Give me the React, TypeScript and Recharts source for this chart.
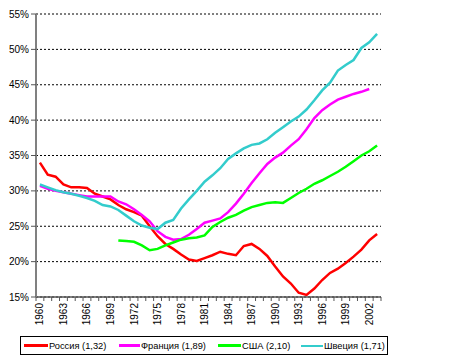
import React from "react";
import { LineChart, Line, XAxis, YAxis, CartesianGrid } from "recharts";

const years: number[] = [
  1960, 1961, 1962, 1963, 1964, 1965, 1966, 1967, 1968, 1969,
  1970, 1971, 1972, 1973, 1974, 1975, 1976, 1977, 1978, 1979,
  1980, 1981, 1982, 1983, 1984, 1985, 1986, 1987, 1988, 1989,
  1990, 1991, 1992, 1993, 1994, 1995, 1996, 1997, 1998, 1999,
  2000, 2001, 2002, 2003,
];

const russia: (number | null)[] = [
  34.0, 32.3, 32.0, 30.9, 30.5, 30.5, 30.4, 29.6, 29.2, 28.8,
  28.0, 27.4, 27.0, 26.5, 25.0, 23.6, 22.5, 21.8, 21.0, 20.3,
  20.1, 20.5, 20.9, 21.4, 21.1, 20.9, 22.2, 22.5, 21.8, 20.8,
  19.3, 17.9, 16.9, 15.6, 15.3, 16.2, 17.4, 18.4, 19.0, 19.8,
  20.7, 21.7, 23.0, 23.9,
];

const france: (number | null)[] = [
  30.7, 30.3, 30.0, 29.8, 29.6, 29.4, 29.2, 29.2, 29.2, 29.2,
  28.5, 28.1, 27.4, 26.6, 25.7, 24.3, 23.5, 23.1, 23.2, 23.8,
  24.6, 25.5, 25.8, 26.1, 27.0, 28.2, 29.6, 31.1, 32.5, 33.8,
  34.7, 35.4, 36.4, 37.3, 38.7, 40.3, 41.4, 42.2, 42.9, 43.3,
  43.7, 44.0, 44.4, null,
];

const usa: (number | null)[] = [
  null, null, null, null, null, null, null, null, null, null,
  23.0, 22.9, 22.8, 22.3, 21.6, 21.8, 22.3, 22.7, 23.1, 23.3,
  23.4, 23.7, 24.9, 25.6, 26.2, 26.6, 27.2, 27.7, 28.0, 28.3,
  28.4, 28.3, 29.0, 29.7, 30.3, 31.0, 31.5, 32.1, 32.7, 33.4,
  34.2, 35.0, 35.6, 36.4,
];

const sweden: (number | null)[] = [
  30.9, 30.5, 30.1, 29.8, 29.6, 29.3, 29.0, 28.6, 28.0, 27.8,
  27.3, 26.5, 25.7, 25.1, 24.8, 24.6, 25.5, 25.9, 27.5, 28.8,
  30.0, 31.3, 32.2, 33.2, 34.5, 35.3, 36.0, 36.5, 36.7, 37.3,
  38.2, 39.0, 39.8, 40.5, 41.5, 42.8, 44.2, 45.3, 47.0, 47.8,
  48.5, 50.2, 51.0, 52.2,
];

const seriesNames: string[] = ["Россия (1,32)", "Франция (1,89)", "США (2,10)", "Швеция (1,71)"];
const seriesKeys: string[] = ["ru", "fr", "us", "se"];
const seriesColors: string[] = ["#FF0000", "#FF00FF", "#00FF00", "#33CCCC"];

const yTicks: number[] = [15, 20, 25, 30, 35, 40, 45, 50, 55];
const xLabelYears: number[] = [1960, 1963, 1966, 1969, 1972, 1975, 1978, 1981, 1984, 1987, 1990, 1993, 1996, 1999, 2002];

const data = years.map((y, i) => ({
  year: y,
  ru: russia[i],
  fr: france[i],
  us: usa[i],
  se: sweden[i],
}));

const boundaries = [...years.map((y) => y - 0.5), years[years.length - 1] + 0.5];
const xTicks = [...boundaries, ...xLabelYears].sort((a, b) => a - b);

const FONT = "'Liberation Sans', Arial, sans-serif";

const legendLeft = [3, 98, 197, 280];
const legendLineW = [24, 21, 23, 22];

const XTick = (props: any) => {
  const { x, y, payload } = props;
  const v = payload.value as number;
  if (!Number.isInteger(v)) {
    return <line x1={x} y1={y} x2={x} y2={y + 4} stroke="#555" strokeWidth={1} />;
  }
  return (
    <text
      x={x}
      y={y + 6}
      dy="0.35em"
      textAnchor="end"
      transform={`rotate(-90, ${x}, ${y + 6})`}
      fontSize={10}
      fontFamily={FONT}
      fill="#000"
    >
      {v}
    </text>
  );
};

export default function App() {
  return (
    <div style={{ position: "absolute", left: 0, top: 0, width: 450, height: 363, background: "#fff" }}>
      <LineChart
        width={450}
        height={363}
        data={data}
        margin={{ top: 14, right: 69, bottom: 26, left: 0 }}
      >
        <CartesianGrid vertical={false} stroke="#000" strokeDasharray="2 2" />
        <XAxis
          dataKey="year"
          type="number"
          domain={[1959.5, 2003.5]}
          ticks={xTicks}
          interval={0}
          tick={<XTick />}
          tickLine={false}
          tickSize={0}
          tickMargin={0}
          height={40}
          axisLine={{ stroke: "#555", strokeWidth: 1.5 }}
          allowDataOverflow
        />
        <YAxis
          type="number"
          domain={[15, 55]}
          ticks={yTicks}
          interval={0}
          width={36}
          tickFormatter={(v: number) => `${v}%`}
          tick={{ fontSize: 10, fontFamily: FONT, fill: "#000" }}
          tickSize={5}
          tickMargin={2}
          tickLine={{ stroke: "#555" }}
          axisLine={{ stroke: "#808080", strokeWidth: 2 }}
        />
        {seriesKeys.map((k, i) => (
          <Line
            key={k}
            type="linear"
            dataKey={k}
            name={seriesNames[i]}
            stroke={seriesColors[i]}
            strokeWidth={2.5}
            dot={false}
            activeDot={false}
            isAnimationActive={false}
          />
        ))}
      </LineChart>
      <div
        style={{
          position: "absolute",
          left: 20,
          top: 336,
          width: 366,
          height: 17,
          border: "1px solid #000",
          fontFamily: FONT,
          fontSize: 9.3,
          color: "#000",
          boxSizing: "content-box",
        }}
      >
        {seriesNames.map((n, i) => (
          <div
            key={n}
            style={{
              position: "absolute",
              left: legendLeft[i],
              top: 0,
              height: 17,
              display: "flex",
              alignItems: "center",
            }}
          >
            <div
              style={{
                width: legendLineW[i],
                height: i === 3 ? 2 : 3,
                background: seriesColors[i],
                marginRight: 1,
              }}
            />
            <span style={{ whiteSpace: "nowrap" }}>{n}</span>
          </div>
        ))}
      </div>
    </div>
  );
}
